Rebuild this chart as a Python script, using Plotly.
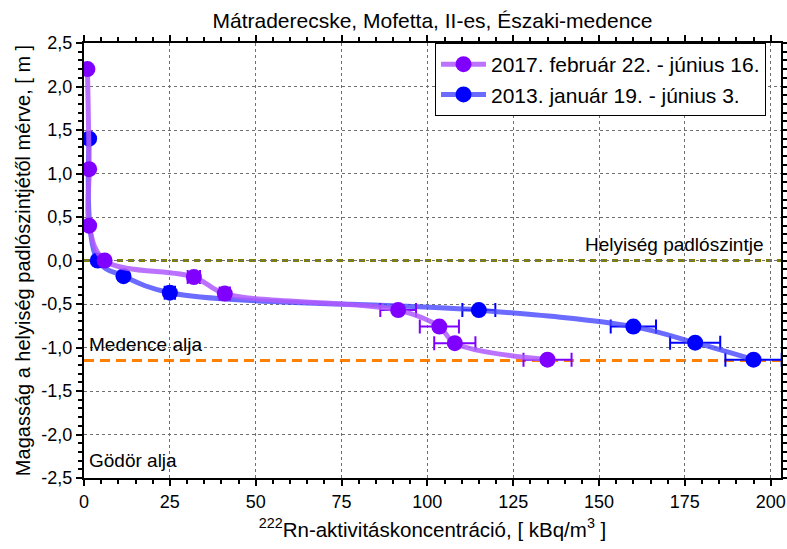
import plotly.graph_objects as go

# Rn-222 activity concentration profiles vs. height (Mátraderecske mofetta)
h_2017 = [2.2, 1.05, 0.4, 0.0, -0.19, -0.38, -0.57, -0.76, -0.95, -1.14]
c_2017 = [1.0, 1.5, 1.5, 6.0, 32.0, 41.0, 91.5, 103.5, 108.0, 135.0]
e_2017 = [0.0, 0.0, 0.0, 0.0, 1.8, 1.5, 5.2, 5.7, 6.0, 7.0]

h_2013 = [1.4, 0.0, -0.18, -0.37, -0.57, -0.76, -0.945, -1.14]
c_2013 = [1.5, 4.0, 11.5, 25.0, 115.0, 160.0, 178.0, 195.0]
e_2013 = [0.0, 0.0, 0.0, 1.5, 4.8, 6.6, 7.3, 8.2]

name_2017 = "2017. február 22. - június 16."
name_2013 = "2013. január 19. - június 3."

# reference levels: room floor and basin bottom
floor_level = 0.0
basin_level = -1.15

x_ticks = [0, 25, 50, 75, 100, 125, 150, 175, 200]
y_ticks = [2.5, 2.0, 1.5, 1.0, 0.5, 0.0, -0.5, -1.0, -1.5, -2.0, -2.5]
y_ticktext = ["2,5", "2,0", "1,5", "1,0", "0,5", "0,0",
              "-0,5", "-1,0", "-1,5", "-2,0", "-2,5"]

FONT = "Liberation Sans, Arial, sans-serif"

fig = go.Figure()

fig.add_trace(go.Scatter(
    x=c_2013, y=h_2013, name=name_2013, mode="lines+markers",
    line=dict(color="rgba(70,70,255,0.8)", width=5, shape="spline", smoothing=1.0),
    marker=dict(color="#0000FF", size=16),
    error_x=dict(type="data", array=e_2013, color="#0000FF", thickness=2, width=7),
))

fig.add_trace(go.Scatter(
    x=c_2017, y=h_2017, name=name_2017, mode="lines+markers",
    line=dict(color="rgba(175,90,255,0.85)", width=5, shape="spline", smoothing=1.0),
    marker=dict(color="#8000FF", size=16),
    error_x=dict(type="data", array=e_2017, color="#8000FF", thickness=2, width=7),
))

fig.add_shape(type="line", xref="paper", yref="y", x0=0, x1=1,
              y0=floor_level, y1=floor_level,
              line=dict(color="#808000", width=3, dash="6px,5px"), layer="below")
fig.add_shape(type="line", xref="paper", yref="y", x0=0, x1=1,
              y0=basin_level, y1=basin_level,
              line=dict(color="#FF8000", width=3, dash="10px,6px"), layer="below")

ann_font = dict(family=FONT, size=19, color="black")
fig.add_annotation(x=198.5, y=floor_level, xref="x", yref="y", yshift=4,
                   text="Helyiség padlószintje", showarrow=False,
                   xanchor="right", yanchor="bottom", font=ann_font)
fig.add_annotation(x=0.8, y=basin_level, xref="x", yref="y", yshift=4,
                   text="Medence alja", showarrow=False,
                   xanchor="left", yanchor="bottom", font=ann_font)
fig.add_annotation(x=0.8, y=-2.5, xref="x", yref="y", yshift=5,
                   text="Gödör alja", showarrow=False,
                   xanchor="left", yanchor="bottom", font=ann_font)

axis_common = dict(
    showline=True, linecolor="black", linewidth=2, mirror="ticks",
    ticks="outside", ticklen=6, tickwidth=2, tickcolor="black",
    showgrid=True, gridcolor="#707070", gridwidth=1, griddash="dot",
    zeroline=False,
    tickfont=dict(family=FONT, size=18, color="black"),
    minor=dict(ticks="outside", ticklen=4, tickwidth=1.5, tickcolor="black",
               showgrid=False),
)

fig.update_xaxes(
    range=[0, 203], tickvals=x_ticks, minor_dtick=5,
    title=dict(text="<sup>222</sup>Rn-aktivitáskoncentráció, [ kBq/m<sup>3</sup> ]",
               font=dict(family=FONT, size=20.5, color="black"), standoff=12),
    **axis_common,
)
fig.update_yaxes(
    range=[-2.5, 2.5], tickvals=y_ticks, ticktext=y_ticktext, minor_dtick=0.1,
    title=dict(text="Magasság a helyiség padlószintjétől mérve, [ m ]",
               font=dict(family=FONT, size=20, color="black"), standoff=5),
    **axis_common,
)

fig.update_layout(
    width=787, height=549,
    margin=dict(l=84, r=6, t=43, b=71, autoexpand=False),
    paper_bgcolor="white", plot_bgcolor="white",
    title=dict(text="Mátraderecske, Mofetta, II-es, Északi-medence",
               x=0.5, xref="paper", xanchor="center", y=0.963, yanchor="middle",
               font=dict(family=FONT, size=21, color="black")),
    legend=dict(x=0.5036, y=1, xanchor="left", yanchor="top",
                bgcolor="white", bordercolor="black", borderwidth=1,
                traceorder="reversed", tracegroupgap=0, itemwidth=45,
                font=dict(family=FONT, size=21, color="black")),
    showlegend=True,
)

fig.write_html("out.html")
